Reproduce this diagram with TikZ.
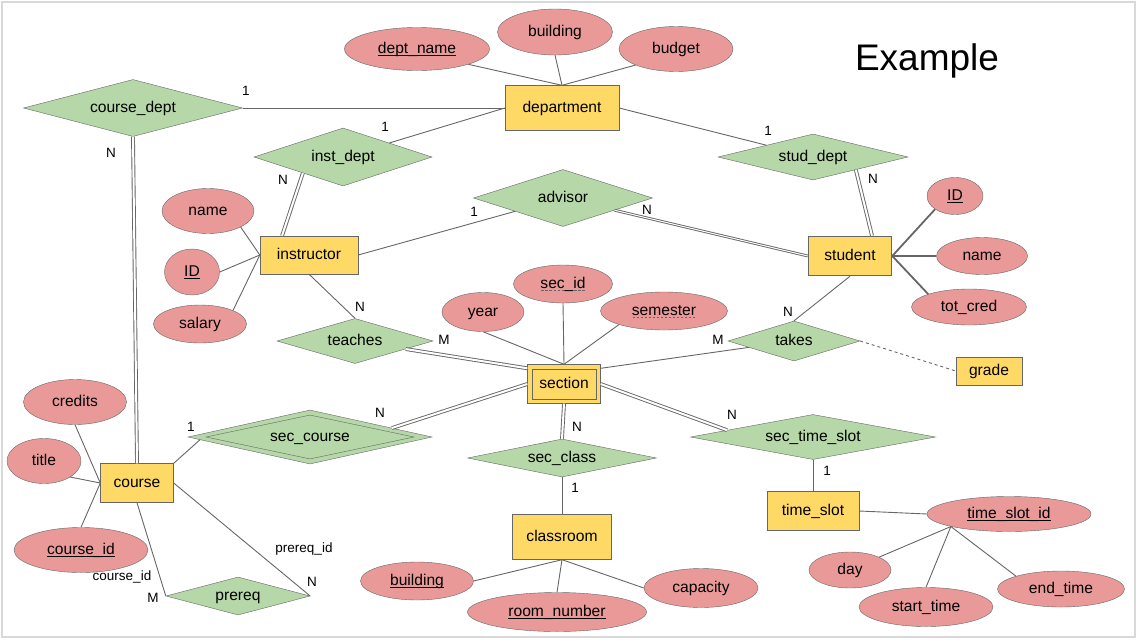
\documentclass[tikz,border=0pt]{standalone}
\usepackage{fontspec}
\setmainfont{Liberation Sans}
\usetikzlibrary{shapes.geometric, calc}

\definecolor{entityfill}{HTML}{FFD966}
\definecolor{attrfill}{HTML}{EA9999}
\definecolor{relfill}{HTML}{B6D7A8}
\definecolor{linegray}{HTML}{666666}
\definecolor{framegray}{HTML}{D9D9D9}

\newcommand{\keyattr}[1]{\setbox0\hbox{#1}\rlap{\rule[-2.5pt]{\wd0}{1pt}}\box0}
\newcommand{\partkey}[1]{\setbox0\hbox{#1}\rlap{\color{linegray}\hbox to \wd0{\xleaders\hbox to 4pt{\hss\rule[-2.5pt]{2.5pt}{1pt}\hss}\hfill}}\box0}

\begin{document}
\begin{tikzpicture}[x = 1pt, y = -1pt,
	every node/.style = {font = \fontsize{15.6}{18}\selectfont},
	shape text/.style = {text height = 12pt, text depth = 2.5pt},
	entity/.style 2 args = {rectangle, shape text, draw = linegray, fill = entityfill, inner sep = 0pt, minimum width = #1, minimum height = #2},
	attr/.style 2 args = {ellipse, shape text, draw = linegray, fill = attrfill, inner sep = 0pt, minimum width = #1, minimum height = #2},
	rel/.style 2 args = {diamond, shape text, aspect = 4, draw = linegray, fill = relfill, inner sep = 0pt, minimum width = #1, minimum height = #2},
	link/.style = {draw = linegray, line width = 0.9pt},
	heavy/.style = {draw = linegray, line width = 1.8pt},
	total/.style = {link, double, double distance = 2pt},
	card/.style = {font = \fontsize{13.5}{16}\selectfont}]

	% Frame

	\useasboundingbox (0, 0) rectangle (1137, 640);
	\draw [framegray, line width = 1.5pt] (2, 2) rectangle (1135, 637);
	\node [font = \fontsize{37}{44}\selectfont] (heading) at (927, 61) {Example};

	% Entities

	\node [entity = {114pt}{45pt}] (department) at (562, 108) {department};
	\node [entity = {98pt}{38pt}] (instructor) at (309, 255) {instructor};
	\node [entity = {83pt}{39pt}, line width = 1.5pt] (student) at (850, 256) {student};
	\node [entity = {73pt}{39pt}] (section) at (564, 384) {section};
	\node [draw = linegray, inner sep = 0pt, minimum width = 64pt, minimum height = 30pt] (section inner) at (section) {};
	\node [entity = {73pt}{39pt}] (course) at (137, 483) {course};
	\node [entity = {99pt}{45pt}] (classroom) at (562, 537) {classroom};
	\node [entity = {92pt}{39pt}] (timeslot) at (813, 511) {time\_slot};
	\node [entity = {66pt}{28pt}] (grade) at (989, 371) {grade};

	% Relationships

	\node [rel = {219pt}{57pt}] (coursedept) at (133, 108) {course\_dept};
	\node [rel = {178pt}{58pt}] (instdept) at (343, 157) {inst\_dept};
	\node [rel = {190pt}{46pt}] (studdept) at (813, 157) {stud\_dept};
	\node [rel = {179pt}{57pt}] (advisor) at (563, 198) {advisor};
	\node [rel = {156pt}{45pt}] (teaches) at (355, 341) {teaches};
	\node [rel = {132pt}{40pt}] (takes) at (794, 341) {takes};
	\node [rel = {244pt}{54pt}] (seccourse) at (310, 437) {};
	\node [rel = {208pt}{44pt}] (seccourse inner) at (seccourse) {sec\_course};
	\node [rel = {189pt}{38pt}] (secclass) at (562, 458) {sec\_class};
	\node [rel = {245pt}{45pt}] (sectimeslot) at (813, 437) {sec\_time\_slot};
	\node [rel = {144pt}{38pt}] (prereq) at (238, 596) {prereq};

	% Attributes

	\node [attr = {145pt}{43pt}] (deptname) at (417, 49) {\keyattr{dept\_name}};
	\node [attr = {115pt}{46pt}] (deptbuilding) at (555, 32) {building};
	\node [attr = {114pt}{45pt}] (budget) at (676, 49) {budget};
	\node [attr = {92pt}{45pt}] (instname) at (208, 211) {name};
	\node [attr = {55pt}{46pt}] (instid) at (192, 272) {\keyattr{ID}};
	\node [attr = {93pt}{38pt}] (salary) at (200, 324) {salary};
	\node [attr = {56pt}{37pt}] (studid) at (955, 196) {\keyattr{ID}};
	\node [attr = {91pt}{37pt}] (studname) at (982, 256) {name};
	\node [attr = {115pt}{36pt}] (totcred) at (969, 307) {tot\_cred};
	\node [attr = {82pt}{39pt}] (year) at (483, 312) {year};
	\node [attr = {99pt}{38pt}] (secid) at (563, 284) {\partkey{sec\_id}};
	\node [attr = {127pt}{38pt}] (semester) at (664, 311) {\partkey{semester}};
	\node [attr = {103pt}{45pt}] (credits) at (75, 402) {credits};
	\node [attr = {74pt}{45pt}] (title) at (44, 461) {title};
	\node [attr = {134pt}{45pt}] (courseid) at (81, 550) {\keyattr{course\_id}};
	\node [attr = {113pt}{38pt}] (roombuilding) at (417, 581) {\keyattr{building}};
	\node [attr = {179pt}{39pt}] (roomnumber) at (557, 612) {\keyattr{room\_number}};
	\node [attr = {114pt}{39pt}] (capacity) at (701, 588) {capacity};
	\node [attr = {164pt}{35pt}] (timeslotid) at (1009, 514) {\keyattr{time\_slot\_id}};
	\node [attr = {82pt}{36pt}] (day) at (850, 570) {day};
	\node [attr = {134pt}{39pt}] (starttime) at (926, 607) {start\_time};
	\node [attr = {127pt}{36pt}] (endtime) at (1061, 589) {end\_time};

	% Department links

	\draw [link] (deptname.south east) -- (department.north);
	\draw [link] (deptbuilding.south) -- (department.north);
	\draw [link] (budget.south west) -- (department.north);
	\draw [link] (coursedept.east) -- (department.west);
	\draw [link] (instdept) -- (department.west);
	\draw [link] (department.east) -- (studdept);

	% Instructor links

	\draw [link] (instname.south east) -- (instructor.west);
	\draw [link] (instid.east) -- (instructor.west);
	\draw [link] (salary.north east) -- (instructor.west);
	\draw [total] ($(instdept.west)!0.55!(instdept.south)$) -- ([xshift = -27pt] instructor.north);
	\draw [link] (instructor.east) -- (advisor);
	\draw [link] (instructor.south) -- (teaches.north);

	% Student links

	\draw [heavy] (student.east) -- (studid.south west);
	\draw [heavy] (student.east) -- (studname.west);
	\draw [heavy] (student.east) -- (totcred.north west);
	\draw [total] ($(studdept.south)!0.45!(studdept.east)$) -- ([xshift = 22pt] student.north);
	\draw [link, double, double distance = 1pt] (advisor) -- (student.west);
	\draw [link] (takes.north) -- (student.south);
	\draw [link, dashed] (takes.east) -- (grade.west);

	% Section links

	\draw [link] (year.south) -- (section.north);
	\draw [link] (secid.south) -- (section.north);
	\draw [link] (semester.south west) -- (section.north);
	\draw [total] (teaches) -- ([yshift = -4pt] section.north west);
	\draw [link] (takes) -- ([yshift = -4pt] section.north east);
	\draw [total] (section.west) -- ($(seccourse.north)!0.67!(seccourse.east)$);
	\draw [total] (section.south) -- (secclass.north);
	\draw [total] (section.east) -- ($(sectimeslot.west)!0.3!(sectimeslot.north)$);

	% Course links

	\draw [link] (credits.south) -- (course.west);
	\draw [link] (title.south east) -- (course.west);
	\draw [link] (courseid.north) -- (course.west);
	\draw [total] (coursedept.south) -- (course.north);
	\draw [link] (course.north east) -- ($(seccourse.west)!0.1!(seccourse.south)$);
	\draw [link] (course.south) -- (prereq.west);
	\draw [link] (course.east) -- (prereq.east);

	% Classroom and time slot links

	\draw [link] (secclass.south) -- (classroom.north);
	\draw [link] (classroom.south) -- (roombuilding.east);
	\draw [link] (classroom.south) -- (roomnumber.north);
	\draw [link] (classroom.south) -- (capacity.west);
	\draw [link] (sectimeslot.south) -- (timeslot.north);
	\draw [link] (timeslot.east) -- (timeslotid.west);
	\draw [link] (timeslotid.south west) -- (day.north east);
	\draw [link] (timeslotid.south west) -- (starttime.north);
	\draw [link] (timeslotid.south west) -- (endtime.north west);

	% Cardinalities

	\node [card] (coursedept one) at (246, 91) {1};
	\node [card] (coursedept n) at (111, 153) {N};
	\node [card] (instdept one) at (385, 127) {1};
	\node [card] (instdept n) at (283, 180) {N};
	\node [card] (studdept one) at (768, 131) {1};
	\node [card] (studdept n) at (873, 179) {N};
	\node [card] (advisor one) at (474, 212) {1};
	\node [card] (advisor n) at (647, 210) {N};
	\node [card] (teaches n) at (360, 307) {N};
	\node [card] (teaches m) at (444, 340) {M};
	\node [card] (takes m) at (718, 340) {M};
	\node [card] (takes n) at (788, 312) {N};
	\node [card] (seccourse n) at (380, 413) {N};
	\node [card] (seccourse one) at (191, 427) {1};
	\node [card] (secclass n) at (577, 427) {N};
	\node [card] (secclass one) at (575, 488) {1};
	\node [card] (sectimeslot n) at (732, 415) {N};
	\node [card] (sectimeslot one) at (827, 471) {1};
	\node [card] (prereq course) at (122, 577) {course\_id};
	\node [card] (prereq m) at (153, 598) {M};
	\node [card] (prereq req) at (304, 549) {prereq\_id};
	\node [card] (prereq n) at (312, 582) {N};

\end{tikzpicture}
\end{document}
